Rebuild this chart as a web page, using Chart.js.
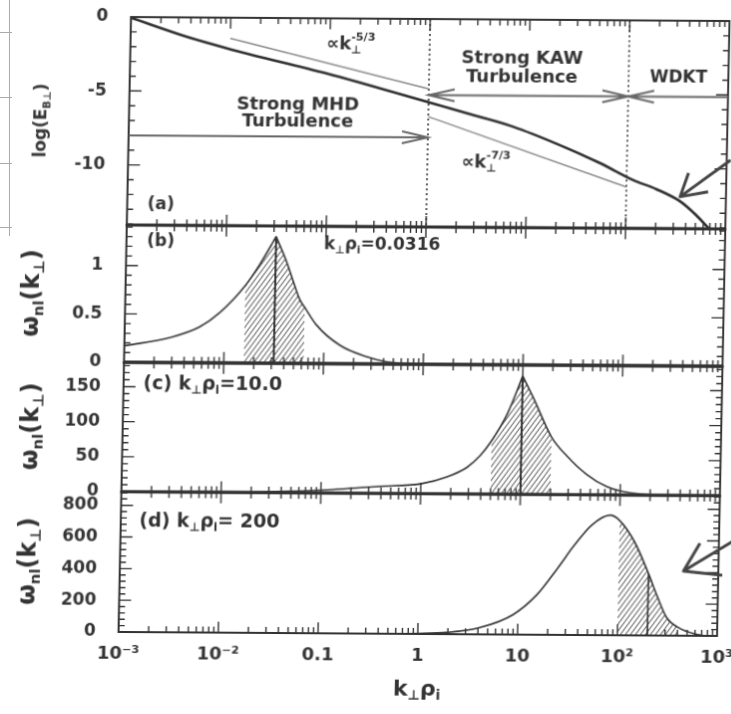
<!DOCTYPE html>
<html><head><meta charset="utf-8">
<script src="https://cdn.jsdelivr.net/npm/chart.js@4.4.1/dist/chart.umd.min.js"></script>
<style>
html,body{margin:0;padding:0;background:#fff;overflow:hidden;width:731px;height:714px;position:relative}
#wrap{position:absolute;left:0;top:0;width:771px;height:714px;transform-origin:131px 17px;transform:matrix(0.9975,0.00667,-0.0202,0.995,0,0)}
#wrap canvas{position:absolute;left:0}
.scan{position:absolute;background:#aaa}
</style></head><body>
<div class="scan" style="left:9px;top:0;width:1px;height:236px"></div>
<div class="scan" style="left:0;top:32px;width:12px;height:1px"></div>
<div class="scan" style="left:0;top:97px;width:12px;height:1px"></div>
<div class="scan" style="left:0;top:163px;width:12px;height:1px"></div>
<div class="scan" style="left:0;top:227px;width:12px;height:1px"></div>
<div id="wrap">
<canvas id="ca" width="771" height="239" style="top:2px"></canvas>
<canvas id="cb" width="771" height="168" style="top:211px"></canvas>
<canvas id="cc" width="771" height="160" style="top:349px"></canvas>
<canvas id="cd" width="771" height="236" style="top:479px"></canvas>
</div>
<script>
// ---------------- data ----------------
// x axis: k_perp rho_i (log scale)
const xTickVals   = [0.001, 0.01, 0.1, 1, 10, 100, 1000];
const xTickLabels = ['10\u207B\u00B3', '10\u207B\u00B2', '0.1', '1', '10', '10\u00B2', '10\u00B3'];

// (a) log(E_B) spectrum
const kA = [0.001, 0.0036, 0.0107, 0.093, 0.95, 2.5, 7.1, 20, 54, 116, 200, 355, 500, 690];
const eA = [-0.05, -1.30, -2.18, -3.72, -5.59, -6.38, -7.24, -8.4, -9.67, -10.79, -11.4, -12.25, -13.1, -14.06];
const kRef53 = [0.01, 1];   const eRef53 = [-1.4, -4.73];
const kRef73 = [1, 100];    const eRef73 = [-6.6, -11.27];
const kDivide = [1, 100];   // dotted regime boundaries
const yTicksA = [0, -5, -10];

// (b) omega_nl, k rho_i = 0.0316
const kB = [0.001, 0.00288, 0.00562, 0.00891, 0.0158, 0.0219, 0.0316, 0.0407, 0.0562, 0.0632, 0.0832, 0.145, 0.269, 0.427, 1, 1000];
const wB = [0.17, 0.26, 0.37, 0.52, 0.80, 1.02, 1.31, 1.05, 0.66, 0.58, 0.40, 0.19, 0.074, 0.024, 0.003, 0];
const peakB = 0.0316; const bandB = [0.0158, 0.0632];
const yTicksB = [0, 0.5, 1];

// (c) omega_nl, k rho_i = 10
const kC = [0.001, 0.01, 0.0316, 0.1, 0.178, 0.389, 1, 1.82, 2.88, 3.89, 5, 7.08, 10, 12.9, 20, 28.8, 45.7, 72.4, 100, 186, 316, 1000];
const wC = [0, 0.5, 1.5, 4, 6.5, 10, 14, 24, 38, 55, 76, 114, 169, 138, 82, 55, 29, 12, 5.7, 0.8, 0, 0];
const peakC = 10; const bandC = [5, 20];
const yTicksC = [0, 50, 100, 150];

// (d) omega_nl, k rho_i = 200
const kD = [0.001, 0.3, 1, 1.92, 4.14, 8.93, 15.3, 24.4, 35.7, 52.5, 80, 100, 143, 200, 245, 308, 400, 617, 900, 1000];
const wD = [0, 0, 3, 10, 42, 126, 252, 420, 568, 694, 758, 725, 589, 390, 252, 116, 54, 10, 0, 0];
const peakD = 200; const bandD = [100, 400];
const yTicksD = [0, 200, 400, 600, 800];

// ---------------- helpers ----------------
const INK = '#333';
const FAM = '"DejaVu Sans", sans-serif';
const pts = (ks, vs) => ks.map((k, i) => ({x: k, y: vs[i]}));
const sel = (ks, vs, lo, hi) => pts(ks, vs).filter(p => p.x >= lo - 1e-12 && p.x <= hi + 1e-12);

function hatch(id) {
  const w = 5, h = 7;
  const c = document.createElement('canvas'); c.width = w; c.height = h;
  const g = c.getContext('2d');
  g.strokeStyle = '#3a3a3a'; g.lineWidth = 1;
  g.beginPath();
  g.moveTo(-w, h); g.lineTo(w, -h);
  g.moveTo(-w, 2*h); g.lineTo(2*w, -h);
  g.moveTo(0, 2*h); g.lineTo(2*w, 0);
  g.stroke();
  return document.getElementById(id).getContext('2d').createPattern(c, 'repeat');
}

function lineDS(data, extra) {
  return Object.assign({data, borderColor: INK, borderWidth: 1.6, pointRadius: 0, fill: false,
    cubicInterpolationMode: 'monotone', clip: false}, extra || {});
}
function hatchDS(data, pat) {
  return {data, borderWidth: 0, borderColor: 'rgba(0,0,0,0)', backgroundColor: pat, fill: 'origin',
    pointRadius: 0, cubicInterpolationMode: 'monotone'};
}

function rich(ctx, parts, x, y, size, align) {
  // parts: [text, mode, stay]; mode 0 normal, 1 sub, 2 sup; stay: do not advance
  const fs = m => m ? size * 0.62 : size;
  const dy = m => m === 1 ? size * 0.30 : (m === 2 ? -size * 0.42 : 0);
  let w = 0;
  parts.forEach(([t, m, s]) => { ctx.font = `bold ${fs(m)}px ${FAM}`; if (!s) w += ctx.measureText(t).width; });
  let cx = align === 'center' ? x - w / 2 : (align === 'right' ? x - w : x);
  ctx.textAlign = 'left'; ctx.textBaseline = 'middle';
  parts.forEach(([t, m, s]) => {
    ctx.font = `bold ${fs(m)}px ${FAM}`;
    ctx.fillText(t, cx, y + dy(m));
    if (!s) cx += ctx.measureText(t).width;
  });
}
function arrowHead(ctx, x1, y1, x2, y2, len, half) {
  const a = Math.atan2(y2 - y1, x2 - x1), c = Math.cos(a), s = Math.sin(a);
  ctx.moveTo(x2 - len*c + half*s, y2 - len*s - half*c);
  ctx.lineTo(x2, y2);
  ctx.lineTo(x2 - len*c - half*s, y2 - len*s + half*c);
}

// ---------------- per-panel decorations ----------------
const frameCfg = {
  ca: {major: yTicksA, minor: 1, bottomW: 3},
  cb: {major: yTicksB, minor: 0.1, bottomW: 3.5},
  cc: {major: yTicksC, minor: 10, bottomW: 3},
  cd: {major: yTicksD, minor: 40, bottomW: 2}
};
const omegaParts = [['\u03C9', 0], ['nl', 1], ['(k', 0], ['\u22A5', 1], [')', 0]];
const annot = {
  ca(ctx, X, Y, ca) {
    ctx.fillStyle = INK;
    rich(ctx, [['(a)', 0]], X(0.00217), Y(-12.69), 17, 'center');
    rich(ctx, [['\u221Dk', 0], ['\u22A5', 1, true], ['-5/3', 2]], X(0.092), Y(-1.8), 18, 'left');
    rich(ctx, [['\u221Dk', 0], ['\u22A5', 1, true], ['-7/3', 2]], X(2.2), Y(-9.74), 18, 'left');
    rich(ctx, [['Strong MHD', 0]], X(0.049), Y(-5.87), 18, 'center');
    rich(ctx, [['Turbulence', 0]], X(0.049), Y(-7.0), 18, 'center');
    rich(ctx, [['Strong KAW', 0]], X(8.5), Y(-2.66), 18, 'center');
    rich(ctx, [['Turbulence', 0]], X(8.5), Y(-3.91), 18, 'center');
    rich(ctx, [['WDKT', 0]], X(316), Y(-3.84), 17, 'center');
    // regime arrows
    ctx.strokeStyle = '#666'; ctx.lineWidth = 2;
    ctx.beginPath();
    ctx.moveTo(X(0.001), Y(-8)); ctx.lineTo(X(1), Y(-8));
    arrowHead(ctx, X(0.001), Y(-8), X(1), Y(-8), 26, 6);
    ctx.moveTo(X(1), Y(-5.15)); ctx.lineTo(X(100), Y(-5.15));
    arrowHead(ctx, X(1), Y(-5.15), X(100), Y(-5.15), 26, 6);
    arrowHead(ctx, X(100), Y(-5.15), X(1), Y(-5.15), 26, 6);
    ctx.moveTo(X(1000), Y(-5.15)); ctx.lineTo(X(100), Y(-5.15));
    arrowHead(ctx, X(1000), Y(-5.15), X(100), Y(-5.15), 26, 6);
    ctx.stroke();
    // hand-drawn arrow
    ctx.strokeStyle = '#444'; ctx.lineWidth = 3; ctx.lineJoin = 'round';
    ctx.beginPath();
    ctx.moveTo(X(1096), Y(-9.4)); ctx.lineTo(X(347), Y(-11.9));
    ctx.moveTo(X(417), Y(-10.29)); ctx.lineTo(X(347), Y(-11.9)); ctx.lineTo(X(661), Y(-11.55));
    ctx.stroke();
    // y title
    ctx.save(); ctx.translate(44, (ca.top + ca.bottom) / 2); ctx.rotate(-Math.PI / 2);
    rich(ctx, [['log(E', 0], ['B\u22A5', 1], [')', 0]], 0, 0, 17, 'center');
    ctx.restore();
  },
  cb(ctx, X, Y, ca) {
    ctx.fillStyle = INK;
    rich(ctx, [['(b)', 0]], X(0.00221), Y(1.25), 17, 'center');
    rich(ctx, [['k', 0], ['\u22A5', 1], ['\u03C1', 0], ['i', 1], ['=0.0316', 0]], X(0.0955), Y(1.226), 17, 'left');
    ctx.save(); ctx.translate(38, (ca.top + ca.bottom) / 2); ctx.rotate(-Math.PI / 2);
    rich(ctx, omegaParts, 0, 0, 24, 'center'); ctx.restore();
  },
  cc(ctx, X, Y, ca) {
    ctx.fillStyle = INK;
    rich(ctx, [['(c) k', 0], ['\u22A5', 1], ['\u03C1', 0], ['i', 1], ['=10.0', 0]], X(0.00158), Y(153), 19, 'left');
    ctx.save(); ctx.translate(40, (ca.top + ca.bottom) / 2); ctx.rotate(-Math.PI / 2);
    rich(ctx, omegaParts, 0, 0, 24, 'center'); ctx.restore();
  },
  cd(ctx, X, Y, ca) {
    ctx.fillStyle = INK;
    rich(ctx, [['(d) k', 0], ['\u22A5', 1], ['\u03C1', 0], ['i', 1], ['= 200', 0]], X(0.00153), Y(696), 19, 'left');
    ctx.strokeStyle = '#444'; ctx.lineWidth = 3; ctx.lineJoin = 'round';
    ctx.beginPath();
    ctx.moveTo(X(1445), Y(606)); ctx.lineTo(X(447), Y(408));
    ctx.moveTo(X(646), Y(584)); ctx.lineTo(X(447), Y(408)); ctx.lineTo(X(1096), Y(384));
    ctx.stroke();
    ctx.save(); ctx.translate(40, (ca.top + ca.bottom) / 2); ctx.rotate(-Math.PI / 2);
    rich(ctx, omegaParts, 0, 0, 24, 'center'); ctx.restore();
    rich(ctx, [['k', 0], ['\u22A5', 1], ['\u03C1', 0], ['i', 1]], (ca.left + ca.right) / 2, 212, 22, 'center');
  }
};

const framePlugin = {
  id: 'frame',
  afterDatasetsDraw(chart) {
    const cfg = frameCfg[chart.canvas.id];
    const {ctx, chartArea: ca, scales: {x, y}} = chart;
    ctx.save();
    ctx.strokeStyle = INK;
    ctx.lineWidth = 2;
    ctx.strokeRect(ca.left, ca.top, ca.right - ca.left, ca.bottom - ca.top);
    ctx.lineWidth = cfg.bottomW;
    ctx.beginPath(); ctx.moveTo(ca.left - 1, ca.bottom); ctx.lineTo(ca.right + 1, ca.bottom); ctx.stroke();
    ctx.lineWidth = 1.4;
    ctx.beginPath();
    for (let e = -3; e <= 2; e++) for (let m = 1; m <= 9; m++) {
      const px = x.getPixelForValue(m * Math.pow(10, e));
      const L = m === 1 ? 11 : 6;
      ctx.moveTo(px, ca.top); ctx.lineTo(px, ca.top + L);
      ctx.moveTo(px, ca.bottom); ctx.lineTo(px, ca.bottom - L);
    }
    const ymin = y.min, ymax = y.max;
    for (let v = Math.ceil(ymin / cfg.minor - 1e-9) * cfg.minor; v <= ymax + 1e-9; v += cfg.minor) {
      const py = y.getPixelForValue(v);
      ctx.moveTo(ca.left, py); ctx.lineTo(ca.left + 6, py);
      ctx.moveTo(ca.right, py); ctx.lineTo(ca.right - 6, py);
    }
    cfg.major.forEach(v => {
      const py = y.getPixelForValue(v);
      ctx.moveTo(ca.left, py); ctx.lineTo(ca.left + 12, py);
      ctx.moveTo(ca.right, py); ctx.lineTo(ca.right - 12, py);
    });
    ctx.stroke();
    const X = v => x.getPixelForValue(v), Y = v => y.getPixelForValue(v);
    annot[chart.canvas.id](ctx, X, Y, ca);
    ctx.restore();
  }
};

function makeChart(id, datasets, ymin, ymax, yTicks, showX) {
  return new Chart(document.getElementById(id), {
    type: 'line',
    data: {datasets},
    options: {
      responsive: false, animation: false, devicePixelRatio: 1,
      parsing: false, normalized: true,
      layout: {padding: {top: 15, right: 40, bottom: showX ? 0 : 15, left: 0}},
      plugins: {legend: {display: false}, tooltip: {enabled: false}},
      scales: {
        x: {type: 'logarithmic', min: 0.001, max: 1000, display: showX,
          grid: {display: false}, border: {display: false},
          afterBuildTicks: s => { s.ticks = xTickVals.map(v => ({value: v})); },
          afterFit: s => { s.height = showX ? 80 : 0; s.paddingLeft = 0; s.paddingRight = 0; },
          ticks: {autoSkip: false, maxRotation: 0, padding: 4, color: INK,
            font: {family: FAM, size: 18, weight: 'bold'},
            callback: (v, i) => xTickLabels[i]}},
        y: {type: 'linear', min: ymin, max: ymax,
          grid: {display: false}, border: {display: false},
          afterBuildTicks: s => { s.ticks = yTicks.map(v => ({value: v})); },
          afterFit: s => { s.width = 131; s.paddingTop = 0; s.paddingBottom = 0; },
          ticks: {padding: 15, color: INK, font: {family: FAM, size: 17, weight: 'bold'},
            callback: v => String(v)}}
      }
    },
    plugins: [framePlugin]
  });
}

// (a)
makeChart('ca', [
  lineDS(pts(kRef53, eRef53), {borderColor: '#8a8a8a', borderWidth: 1.5}),
  lineDS(pts(kRef73, eRef73), {borderColor: '#8a8a8a', borderWidth: 1.5}),
  lineDS(pts([kDivide[0], kDivide[0]], [0, -14.06]), {borderWidth: 1.6, borderDash: [2, 3]}),
  lineDS(pts([kDivide[1], kDivide[1]], [0, -14.06]), {borderWidth: 1.6, borderDash: [2, 3]}),
  lineDS(pts(kA, eA), {borderWidth: 2.6, borderColor: '#2e2e2e', clip: true})
], -14.06, 0, yTicksA, false);

// (b)
const patB = hatch('cb');
const topB = wB[kB.indexOf(peakB)];
makeChart('cb', [
  hatchDS(sel(kB, wB, bandB[0], peakB), patB),
  hatchDS(sel(kB, wB, peakB, bandB[1]), patB),
  lineDS(sel(kB, wB, 0, peakB)),
  lineDS(sel(kB, wB, peakB, 1e9)),
  lineDS(pts([peakB, peakB], [0, topB]), {borderWidth: 2})
], 0, 1.42, yTicksB, false);

// (c)
const patC = hatch('cc');
const topC = wC[kC.indexOf(peakC)];
makeChart('cc', [
  hatchDS(sel(kC, wC, bandC[0], peakC), patC),
  hatchDS(sel(kC, wC, peakC, bandC[1]), patC),
  lineDS(sel(kC, wC, 0, peakC)),
  lineDS(sel(kC, wC, peakC, 1e9)),
  lineDS(pts([peakC, peakC], [0, topC]), {borderWidth: 2})
], 0, 184.8, yTicksC, false);

// (d)
const patD = hatch('cd');
const topD = wD[kD.indexOf(peakD)];
makeChart('cd', [
  hatchDS(sel(kD, wD, bandD[0], bandD[1]), patD),
  lineDS(pts(kD, wD)),
  lineDS(pts([peakD, peakD], [0, topD]), {borderWidth: 1.6})
], 0, 886, yTicksD, true);
</script>
</body></html>
